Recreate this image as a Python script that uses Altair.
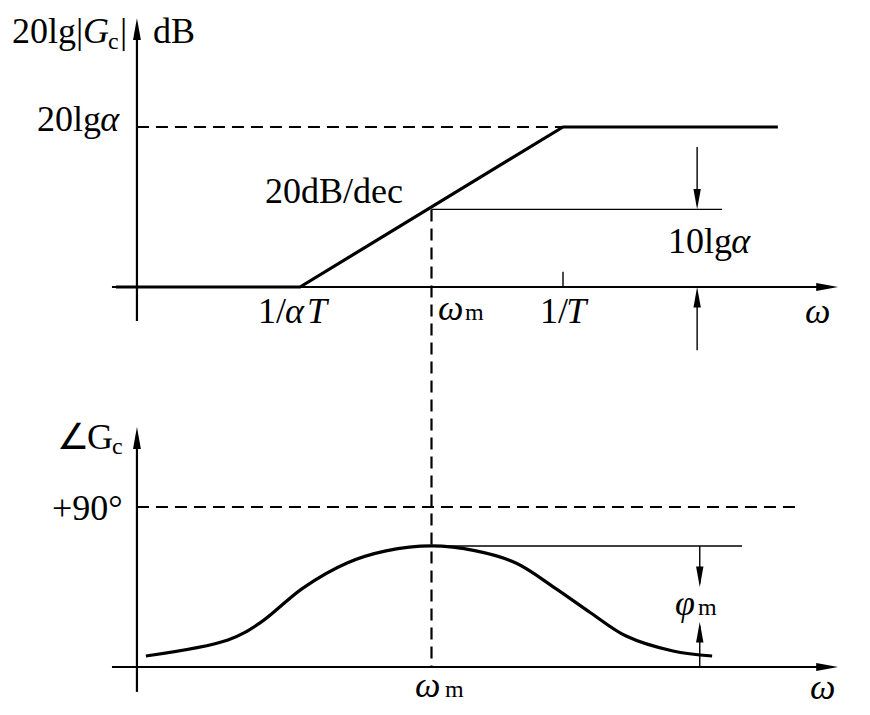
import altair as alt
import pandas as pd

# ---------------- data (x: decades of omega, 1/(aT) at 0, 1/T at 1) ----------------
mag_omega = [-0.70, 0.0, 1.0, 1.817]
mag_db = [0, 0, 20, 20]

phase_omega = [-0.586, -0.274, -0.152, 0.011, 0.179, 0.327, 0.5,
               0.669, 0.821, 0.970, 1.106, 1.240, 1.418, 1.567]
phase_deg = [6.2, 15.2, 24.8, 44.4, 58.5, 65.3, 68.1,
             65.3, 58.5, 44.4, 30.4, 17.4, 9.0, 6.2]

omega_m = 0.5
inv_T = 1.0
db_20lga = 20
db_10lga = 9.7
phi_m = 68.1
deg_90 = 90

# axis extents
ax_x0, ax_x1, ax_tip = -0.715, 1.98, 2.046
yaxis_x = -0.62

# label texts
lab_text = ["20lg|", "G", "c", "|", "dB",
            "20lg", "α", "20dB/dec", "10lg", "α",
            "1/", "α", "T", "ω", "m", "1/", "T", "ω",
            "∠", "G", "c", "+90°", "ω", "m", "ω", "φ", "m"]
lab_x = [-1.095, -0.825, -0.730, -0.684, -0.559,
         -1.0, -0.760, -0.133, 1.399, 1.640,
         -0.160, -0.057, 0.027, 0.525, 0.627, 0.913, 1.012, 1.920,
         -0.925, -0.810, -0.715, -0.943, 0.437, 0.551, 1.939, 1.426, 1.513]
lab_panel = ["T"] * 18 + ["B"] * 9
lab_val = [30.5, 30.5, 29.75, 30.5, 30.5,
           19.5, 19.5, 10.5, 4.25, 4.25,
           -4.5, -4.5, -4.5, -4.125, -4.125, -4.5, -4.5, -4.5,
           122.6, 122.6, 119.8, 82.7, -17.0, -17.0, -18.0, 29.25, 29.25]
lab_kind = ["n", "i", "s", "n", "n",
            "n", "i", "n", "n", "i",
            "n", "i", "i", "i", "s", "n", "i", "i",
            "n", "n", "s", "n", "i", "s", "i", "i", "s"]


# shared vertical coordinate: top panel in dB, bottom panel in degrees
def yv(panel, v):
    return v if panel == "T" else -47.5 + v / 4.5


X = alt.Scale(domain=[-1.1103, 2.1369], nice=False, zero=False)
Y = alt.Scale(domain=[-52.5, 34.875], nice=False, zero=False)

mag_df = pd.DataFrame({"x": mag_omega, "y": [yv("T", v) for v in mag_db],
                       "i": range(len(mag_db))})
ph_df = pd.DataFrame({"x": phase_omega, "y": [yv("B", v) for v in phase_deg],
                      "i": range(len(phase_deg))})


def seg_df(rows):
    return pd.DataFrame([{"x": a, "y": yv(p1, b), "x2": c, "y2": yv(p2, d)}
                         for a, p1, b, c, p2, d in rows])


axes_rows = [
    (yaxis_x, "T", -4.25, yaxis_x, "T", 32.5),
    (ax_x0, "T", 0, ax_x1, "T", 0),
    (yaxis_x, "B", -14, yaxis_x, "B", 128),
    (ax_x0, "B", 0, ax_x1, "B", 0),
]
thin_rows = [
    (omega_m, "T", db_10lga, 1.605, "T", db_10lga),
    (1.51, "T", 17.5, 1.51, "T", db_10lga + 1),
    (1.51, "T", -7.9, 1.51, "T", -1),
    (inv_T, "T", 0, inv_T, "T", 1.9),
    (omega_m, "B", phi_m, 1.681, "B", phi_m),
    (1.52, "B", phi_m, 1.52, "B", 47),
    (1.52, "B", 0, 1.52, "B", 23),
]
dash_rows = [
    (yaxis_x, "T", db_20lga, inv_T, "T", db_20lga),
    (omega_m, "T", db_10lga, omega_m, "B", 0),
    (yaxis_x, "B", deg_90, 1.882, "B", deg_90),
]

UP = "M0,0L0.36,2L-0.36,2Z"
DOWN = "M0,0L0.36,-2L-0.36,-2Z"
RIGHT = "M0,0L-2,0.36L-2,-0.36Z"

axis_heads = pd.DataFrame([
    {"x": yaxis_x, "y": yv("T", 33.6), "d": "up"},
    {"x": ax_tip, "y": yv("T", 0), "d": "right"},
    {"x": yaxis_x, "y": yv("B", 135), "d": "up"},
    {"x": ax_tip, "y": yv("B", 0), "d": "right"},
])
ann_heads = pd.DataFrame([
    {"x": 1.51, "y": yv("T", db_10lga), "d": "down"},
    {"x": 1.51, "y": yv("T", 0), "d": "up"},
    {"x": 1.52, "y": yv("B", 45), "d": "down"},
    {"x": 1.52, "y": yv("B", 25.3), "d": "up"},
])
shape_scale = alt.Scale(domain=["up", "down", "right"], range=[UP, DOWN, RIGHT])

lab_df = pd.DataFrame({"t": lab_text, "x": lab_x,
                       "y": [yv(p, v) for p, v in zip(lab_panel, lab_val)],
                       "k": lab_kind})

FONT = "Liberation Serif"
xe = alt.X("x:Q", scale=X, axis=None)
ye = alt.Y("y:Q", scale=Y, axis=None)

mag = alt.Chart(mag_df).mark_line(color="black", strokeWidth=3.2).encode(
    x=xe, y=ye, order="i:Q")
ph = alt.Chart(ph_df).mark_line(color="black", strokeWidth=3.2,
                                interpolate="catmull-rom").encode(
    x=xe, y=ye, order="i:Q")


def rules(rows, **kw):
    return alt.Chart(seg_df(rows)).mark_rule(color="black", **kw).encode(
        x=xe, y=ye, x2="x2:Q", y2="y2:Q")


axes = rules(axes_rows, strokeWidth=2.2)
thin = rules(thin_rows, strokeWidth=1.4)
dashed = rules(dash_rows, strokeWidth=2.2, strokeDash=[12, 7])

ah = alt.Chart(axis_heads).mark_point(filled=True, color="black", opacity=1,
                                      strokeWidth=0, size=480).encode(
    x=xe, y=ye, shape=alt.Shape("d:N", scale=shape_scale, legend=None))
nh = alt.Chart(ann_heads).mark_point(filled=True, color="black", opacity=1,
                                     strokeWidth=0, size=420).encode(
    x=xe, y=ye, shape=alt.Shape("d:N", scale=shape_scale, legend=None))


def texts(kind, **kw):
    return alt.Chart(lab_df).transform_filter(
        alt.datum.k == kind).mark_text(
        font=FONT, align="left", baseline="alphabetic", color="black", **kw
    ).encode(x=xe, y=ye, text="t:N")


t_n = texts("n", fontSize=36)
t_i = texts("i", fontSize=36, fontStyle="italic")
t_s = texts("s", fontSize=24)

chart = alt.layer(dashed, thin, axes, mag, ph, ah, nh, t_n, t_i, t_s).properties(
    width=854, height=699, padding=0, autosize=alt.AutoSizeParams(type="none")
).configure_view(stroke=None)

chart.save("out.html", embed_options={"renderer": "svg", "actions": False})
